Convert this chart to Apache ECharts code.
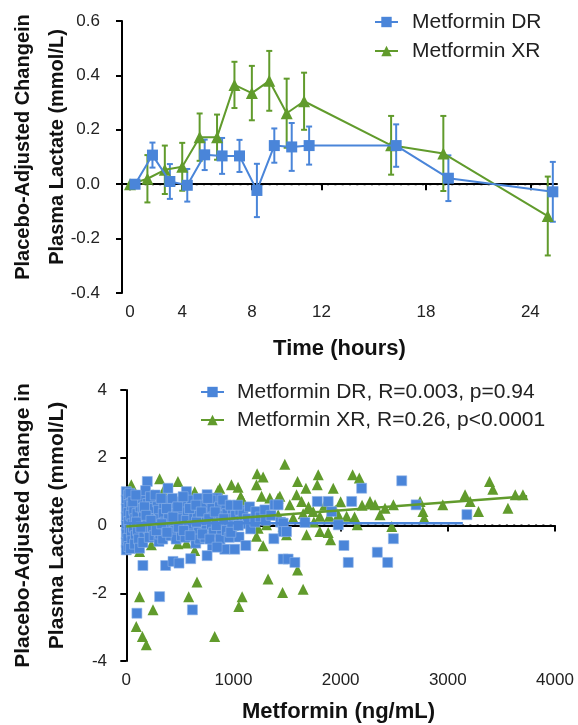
<!DOCTYPE html>
<html>
<head>
<meta charset="utf-8">
<script src="https://cdn.jsdelivr.net/npm/echarts@6.0.0/dist/echarts.min.js"></script>
<style>
  html, body { margin: 0; padding: 0; background: #fff; }
  #main { width: 578px; height: 725px; }
</style>
</head>
<body>
<div id="main"></div>
<script>
var myChart = echarts.init(document.getElementById('main'));

// ---- top panel: time course (mean +/- SEM) ----
var hours = [0, 2, 3, 4, 5, 6, 7, 8, 9, 10, 11, 16, 19, 25];
var drMean = [0, 0.107, 0.01, -0.004, 0.108, 0.104, 0.104, -0.023, 0.142, 0.137, 0.142, 0.142, 0.022, -0.028];
var drSem = [0, 0.046, 0.064, 0.06, 0.056, 0.066, 0.059, 0.098, 0.063, 0.088, 0.07, 0.078, 0.084, 0.11];
var xrMean = [0, 0.02, 0.053, 0.064, 0.173, 0.173, 0.365, 0.335, 0.38, 0.261, 0.305, 0.143, 0.113, -0.117];
var xrSem = [0, 0.087, 0.089, 0.088, 0.087, 0.083, 0.085, 0.1, 0.11, 0.127, 0.105, 0.108, 0.138, 0.145];
var timeTicks = [0, 4, 8, 12, 18, 24];
var drNudge = 0.29; // DR points sit a little right of XR in the original

// ---- bottom panel: concentration vs change ----
var drPoints = [
  [0,1.0],[0,0.75],[0,0.5],[0,0.25],[0,0.0],[0,-0.25],[0,-0.5],[0,-0.72],
  [20,0.9],[25,0.62],[18,0.38],[22,0.12],[28,-0.12],[15,-0.38],[24,-0.62],
  [45,0.85],[50,0.55],[42,0.3],[55,0.05],[48,-0.2],[52,-0.45],[40,-0.68],
  [75,0.8],[70,0.45],[80,0.2],[68,-0.05],[85,-0.3],[78,-0.55],
  [110,0.7],[100,0.35],[120,0.1],[105,-0.15],[115,-0.4],[124,-0.67],[130,0.55],
  [150,0.8],[155,0.5],[160,0.25],[145,0.0],[165,-0.25],[155,-0.5],
  [196,1.3],[180,1.03],[200,0.65],[210,0.4],[195,0.15],[205,-0.1],[215,-0.35],
  [240,0.75],[250,0.5],[255,0.2],[245,-0.05],[260,-0.3],
  [305,-0.47],[290,0.7],[300,0.45],[310,0.2],[295,-0.05],[315,-0.25],
  [350,0.6],[345,0.35],[360,0.1],[355,-0.15],[340,-0.4],
  [389,1.1],[400,0.75],[410,0.45],[395,0.2],[405,-0.05],[415,-0.3],
  [450,0.6],[460,0.35],[445,0.1],[455,-0.15],[465,-0.4],
  [510,0.7],[500,0.45],[520,0.2],[505,-0.05],[515,-0.3],
  [561,1.0],[555,0.65],[570,0.4],[560,0.15],[575,-0.1],[550,-0.35],
  [610,0.75],[620,0.5],[630,0.25],[615,0.0],[625,-0.25],[648,-0.52],
  [670,0.8],[680,0.55],[665,0.3],[690,0.05],[675,-0.2],[685,-0.4],
  [754,0.91],[730,0.6],[740,0.35],[725,0.1],[745,-0.15],[735,-0.35],
  [847,0.81],[790,0.75],[800,0.5],[810,0.25],[795,0.0],[815,-0.2],[804,-0.59],
  [870,0.55],[880,0.3],[860,0.05],[890,-0.2],[875,-0.4],
  [919,-0.7],[930,0.6],[940,0.35],[950,0.1],[935,-0.15],[960,-0.35],
  [990,0.45],[1000,0.2],[985,-0.05],[1012,-0.7],[1020,0.3],
  [1052,-0.34],[1060,0.45],[1070,0.15],[1090,0.37],[1100,0.05],[1115,-0.59],[1130,0.2],
  [35,0.95],[60,0.7],[90,0.9],[95,0.1],[135,-0.05],[170,0.55],[185,0.3],[225,0.85],
  [230,0.15],[270,0.9],[280,-0.15],[325,0.8],[330,0.05],[375,0.5],[380,-0.2],[430,0.8],
  [435,0.25],[480,0.55],[485,-0.05],[530,0.85],[535,-0.15],[590,0.5],[595,-0.3],[650,0.6],
  [655,0.1],[700,0.4],[710,-0.25],[760,0.8],[770,0.2],[780,-0.4],[830,0.4],[840,0.0],
  [900,0.75],[910,0.2],[970,0.6],[975,-0.2],[1040,0.6],[1045,0.0],[1150,0.55],[1160,-0.1],
  [1209,0.41],[1200,0.1],[1250,0.25],[1293,0.46],[1300,0.15],[1350,0.3],[1377,-0.39],
  [1386,0.61],[1417,0.61],[1440,0.1],[1464,0.07],[1464,-0.18],[1495,-0.18],
  [1464,-0.99],[1510,-0.99],[1573,-1.09],[1667,0.09],[1782,0.71],[1884,0.71],
  [1916,0.41],[1978,0.02],[2103,0.71],[2196,1.1],[2570,1.32],[2704,0.61],
  [2031,-0.59],[2492,-0.39],[2342,-0.79],[2071,-1.09],[2439,-1.09],[3178,0.32],
  [155,-1.18],[367,-1.18],[436,-1.06],[492,-1.11],[601,-0.98],[754,-0.89],[847,-0.64],
  [99,-2.59],[311,-2.1],[617,-2.49]
];
var xrPoints = [
  [47,1.2],[140,0.76],[249,0.91],[311,1.38],[342,1.0],[482,1.3],[638,1.0],[872,1.1],
  [856,1.03],[981,1.2],[1043,1.13],[1075,0.81],[1090,0.71],[1065,0.84],
  [124,-0.77],[482,-0.54],[638,-0.74],[234,-0.57],[561,-0.52],
  [30,0.3],[60,-0.1],[150,0.2],[200,0.5],[300,-0.2],[400,0.3],[500,0.0],[600,0.4],
  [700,-0.1],[800,0.2],[900,0.5],[950,-0.3],[1000,0.0],
  [124,-2.1],[93,-2.98],[150,-3.28],[187,-3.52],[249,-2.49],[582,-2.1],[660,-1.67],
  [825,-3.28],[1050,-2.39],[1081,-2.1],[1323,-1.58],[1458,-1.98],[1598,-1.31],
  [1650,-1.88],[1277,-0.6],
  [1221,1.53],[1277,1.43],[1215,1.2],[1479,1.81],[1598,1.3],[1262,0.86],[1339,0.81],
  [1417,0.81],[1433,0.86],[1230,-0.08],[1308,0.02],[1417,0.32],[1464,-0.03],
  [1495,-0.27],[1215,-0.32],[1791,1.5],[1676,1.1],[1782,1.2],[1931,1.1],[2112,1.5],
  [2174,1.4],[1589,0.91],[1636,0.71],[1526,0.61],[1557,0.22],[1744,0.41],[1806,0.27],
  [1894,0.27],[1978,0.32],[2056,0.27],[1806,-0.18],[1884,-0.21],[1682,-0.27],
  [1906,-0.42],[2155,0.02],[1700,0.55],[1850,0.6],[1950,0.45],[2000,0.7],[1750,0.1],
  [1650,0.35],[2200,0.6],[2130,0.25],
  [2274,0.71],[2321,0.61],[2367,0.32],[2414,0.51],[2477,-0.03],[2492,0.61],[2741,0.71],
  [2768,0.41],[2779,0.22],[2953,0.61],[3161,0.91],[3208,0.71],[3286,0.41],[3389,1.3],
  [3420,1.07],[3561,0.51],[3629,0.91],[3701,0.91]
];
var drFit = [[0, 0.07], [3140, 0.07]];
var xrFit = [[0, -0.03], [3740, 0.86]];
var concTicks = [0, 1000, 2000, 3000, 4000];
var concZeroLine = [0, 3970];

var BLUE = '#4a85d9';
var GREEN = '#619b2c';
var FONT = '"Liberation Sans", Arial, sans-serif';

// the 0-2 h stretch of the time axis is drawn compressed in the original
function timePos(t) { return t >= 2 ? t : 1 + t / 2; }
function posTime(p) { return p >= 2 ? p : (p - 1) * 2; }

function errorBars(color) {
    return function (params, api) {
        var x = api.value(0);
        var lo = api.coord([x, api.value(1)]);
        var hi = api.coord([x, api.value(2)]);
        var w = 3;
        var st = { stroke: color, lineWidth: 2 };
        return {
            type: 'group',
            children: [
                { type: 'line', shape: { x1: hi[0], y1: hi[1], x2: lo[0], y2: lo[1] }, style: st },
                { type: 'line', shape: { x1: hi[0] - w, y1: hi[1], x2: hi[0] + w, y2: hi[1] }, style: st },
                { type: 'line', shape: { x1: lo[0] - w, y1: lo[1], x2: lo[0] + w, y2: lo[1] }, style: st }
            ]
        };
    };
}

var drLine = hours.map(function (h, i) { return [timePos(h) + drNudge, drMean[i]]; });
var xrLine = hours.map(function (h, i) { return [timePos(h), xrMean[i]]; });
var drErr = hours.map(function (h, i) { return [timePos(h) + drNudge, drMean[i] - drSem[i], drMean[i] + drSem[i]]; });
var xrErr = hours.map(function (h, i) { return [timePos(h), xrMean[i] - xrSem[i], xrMean[i] + xrSem[i]]; });
var topZero = [[timePos(hours[0]), 0], [hours[hours.length - 1], 0]];
var bottomZero = [[concZeroLine[0], 0], [concZeroLine[1], 0]];

var axisLine = { show: true, lineStyle: { color: '#000', width: 2 } };
var axisTick = { show: true, length: 6, lineStyle: { color: '#000', width: 2 } };
var labelStyle = { fontSize: 17, color: '#222', fontFamily: FONT };
var nameStyle = { fontSize: 21, fontWeight: 'bold', color: '#111', fontFamily: FONT, lineHeight: 34 };
var dotted = { color: '#000', width: 2, type: [2, 5.3] };

var option = {
    animation: false,
    textStyle: { fontFamily: FONT },
    grid: [
        { left: 122, right: 21, top: 21, height: 272, outerBoundsMode: 'none', containLabel: false },
        { left: 122, right: 23, top: 390, height: 271, outerBoundsMode: 'none', containLabel: false }
    ],
    legend: [
        {
            data: ['Metformin DR', 'Metformin XR'],
            orient: 'vertical', left: 374, top: 11, padding: 0,
            itemWidth: 23, itemHeight: 13, itemGap: 7,
            textStyle: { fontSize: 21, lineHeight: 22, color: '#222', padding: [0, 0, 0, 9] }
        },
        {
            data: ['Metformin DR, R=0.003, p=0.94', 'Metformin XR, R=0.26, p<0.0001'],
            orient: 'vertical', left: 200, top: 381, padding: 0,
            itemWidth: 23, itemHeight: 13, itemGap: 6,
            textStyle: { fontSize: 21, lineHeight: 22, color: '#222', padding: [0, 0, 0, 8] }
        }
    ],
    xAxis: [
        {
            gridIndex: 0, type: 'value', min: 0.54, max: 25.53,
            name: 'Time (hours)', nameLocation: 'middle', nameGap: 39, nameMoveOverlap: false,
            nameTextStyle: Object.assign({}, nameStyle, { fontSize: 22 }),
            axisLine: axisLine,
            axisTick: Object.assign({ customValues: timeTicks.map(timePos) }, axisTick),
            axisLabel: Object.assign({
                customValues: timeTicks.map(timePos), margin: 11,
                formatter: function (v) { return String(Math.round(posTime(v))); }
            }, labelStyle),
            splitLine: { show: false }
        },
        {
            gridIndex: 1, type: 'value', min: -40, max: 4000,
            name: 'Metformin (ng/mL)', nameLocation: 'middle', nameGap: 34, nameMoveOverlap: false,
            nameTextStyle: Object.assign({}, nameStyle, { fontSize: 22 }),
            axisLine: axisLine,
            axisTick: Object.assign({ customValues: concTicks }, axisTick),
            axisLabel: Object.assign({
                customValues: concTicks, margin: 11,
                formatter: function (v) { return String(v); }
            }, labelStyle),
            splitLine: { show: false }
        }
    ],
    yAxis: [
        {
            gridIndex: 0, type: 'value', min: -0.4, max: 0.6, interval: 0.2,
            name: 'Placebo-Adjusted Changein\nPlasma Lactate (mmol/L)',
            nameLocation: 'middle', nameRotate: 90, nameGap: 48, nameMoveOverlap: false,
            nameTextStyle: Object.assign({}, nameStyle, { fontSize: 20, padding: [0, 0, 0, 20] }),
            axisLine: axisLine, axisTick: axisTick,
            axisLabel: Object.assign({
                margin: 22,
                formatter: function (v) { return v.toFixed(1); }
            }, labelStyle),
            splitLine: { show: false }
        },
        {
            gridIndex: 1, type: 'value', min: -4, max: 4, interval: 2,
            name: 'Placebo-Adjusted Change in\nPlasma Lactate (mmol/L)',
            nameLocation: 'middle', nameRotate: 90, nameGap: 48, nameMoveOverlap: false,
            nameTextStyle: nameStyle,
            axisLine: axisLine, axisTick: axisTick,
            axisLabel: Object.assign({ margin: 15 }, labelStyle),
            splitLine: { show: false }
        }
    ],
    series: [
        // top panel
        {
            type: 'line', name: 'zeroTop', xAxisIndex: 0, yAxisIndex: 0,
            data: topZero, symbol: 'none', lineStyle: dotted, z: 1, silent: true
        },
        {
            type: 'custom', name: 'xrErr', xAxisIndex: 0, yAxisIndex: 0,
            data: xrErr, renderItem: errorBars(GREEN), z: 2, silent: true
        },
        {
            type: 'custom', name: 'drErr', xAxisIndex: 0, yAxisIndex: 0,
            data: drErr, renderItem: errorBars(BLUE), z: 2, silent: true
        },
        {
            type: 'line', name: 'Metformin XR', xAxisIndex: 0, yAxisIndex: 0,
            data: xrLine, symbol: 'triangle', symbolSize: 12,
            lineStyle: { color: GREEN, width: 2 }, itemStyle: { color: GREEN }, z: 3
        },
        {
            type: 'line', name: 'Metformin DR', xAxisIndex: 0, yAxisIndex: 0,
            data: drLine, symbol: 'rect', symbolSize: 11,
            lineStyle: { color: BLUE, width: 2 }, itemStyle: { color: BLUE }, z: 4
        },
        // bottom panel
        {
            type: 'line', name: 'Metformin DR, R=0.003, p=0.94', xAxisIndex: 1, yAxisIndex: 1,
            data: drFit, symbol: 'rect', showSymbol: false,
            lineStyle: { color: BLUE, width: 2.5 }, itemStyle: { color: BLUE }, z: 5
        },
        {
            type: 'line', name: 'Metformin XR, R=0.26, p<0.0001', xAxisIndex: 1, yAxisIndex: 1,
            data: xrFit, symbol: 'triangle', showSymbol: false,
            lineStyle: { color: GREEN, width: 2.5 }, itemStyle: { color: GREEN }, z: 6
        },
        {
            type: 'line', name: 'zeroBottom', xAxisIndex: 1, yAxisIndex: 1,
            data: bottomZero, symbol: 'none', lineStyle: dotted, z: 1, silent: true
        },
        {
            type: 'scatter', name: 'xrPoints', xAxisIndex: 1, yAxisIndex: 1,
            data: xrPoints, symbol: 'triangle', symbolSize: 11,
            itemStyle: { color: GREEN, opacity: 1 }, z: 2
        },
        {
            type: 'scatter', name: 'drPoints', xAxisIndex: 1, yAxisIndex: 1,
            data: drPoints, symbol: 'rect', symbolSize: 10,
            itemStyle: { color: BLUE, opacity: 1, borderColor: '#8fb3e8', borderWidth: 0.6 }, z: 3
        }
    ]
};

myChart.setOption(option);
</script>
</body>
</html>
